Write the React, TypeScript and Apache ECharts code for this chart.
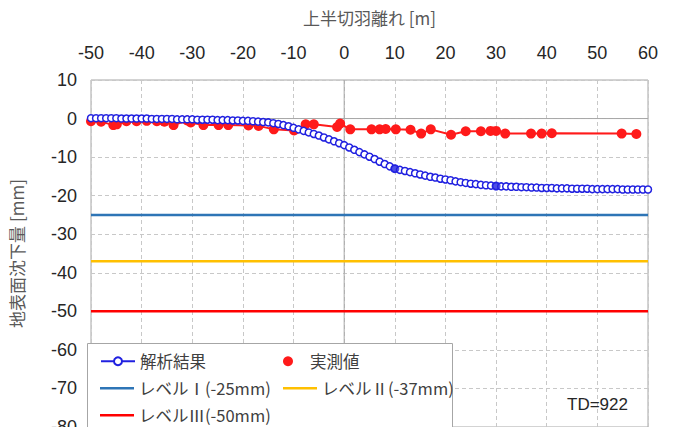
import React, { useEffect, useRef } from "react";
import * as echarts from "echarts";

// Analysis result (解析結果), one value per metre from -50 to 60
const analysisX: number[] = [];
for (let i = -50; i <= 60; i++) analysisX.push(i);
const analysisY: number[] = [
  // -50 .. -41
  0.1, 0.1, 0.1, 0.1, 0.1, 0.1, 0.0, 0.0, 0.0, 0.0,
  // -40 .. -31
  0.0, 0.0, -0.1, -0.1, -0.1, -0.1, -0.1, -0.2, -0.2, -0.2,
  // -30 .. -21
  -0.2, -0.3, -0.3, -0.3, -0.3, -0.4, -0.4, -0.4, -0.5, -0.5,
  // -20 .. -11
  -0.6, -0.6, -0.7, -0.8, -0.9, -1.0, -1.2, -1.4, -1.7, -2.0,
  // -10 .. -1
  -2.4, -2.8, -3.2, -3.6, -4.0, -4.4, -4.9, -5.4, -5.9, -6.4,
  // 0 .. 9
  -6.9, -7.5, -8.1, -8.7, -9.3, -9.9, -10.5, -11.2, -11.8, -12.4,
  // 10 .. 19
  -13.0, -13.3, -13.6, -13.9, -14.2, -14.5, -14.8, -15.1, -15.3, -15.6,
  // 20 .. 29
  -15.8, -16.0, -16.3, -16.5, -16.7, -16.9, -17.0, -17.2, -17.3, -17.4,
  // 30 .. 39
  -17.5, -17.6, -17.6, -17.7, -17.7, -17.8, -17.8, -17.9, -17.9, -18.0,
  // 40 .. 49
  -18.0, -18.0, -18.1, -18.1, -18.1, -18.2, -18.2, -18.2, -18.2, -18.3,
  // 50 .. 60
  -18.3, -18.3, -18.3, -18.3, -18.3, -18.4, -18.4, -18.4, -18.4, -18.4, -18.4,
];

// Highlighted analysis points
const keyX: number[] = [10, 30];
const keyY: number[] = [-13.0, -17.5];

// Measured values (実測値)
const measuredX: number[] = [
  -50, -48, -45.6, -44.9, -43, -41, -39, -37, -35.5, -33.7, -31, -30.3, -27.8,
  -24.8, -22.9, -18.9, -16.9, -13.9, -9.9, -7.6, -6, -1.4, -0.8, 1.2, 5.4, 7,
  8.2, 10.2, 13.1, 15.2, 17.1, 21.1, 24, 27, 28.9, 30, 31.8, 36.9, 39, 41,
  54.8, 57.7,
];
const measuredY: number[] = [
  -0.7, -0.8, -1.7, -1.5, -0.7, -0.7, -0.6, -0.7, -0.8, -1.7, -0.5, -1.0, -1.7,
  -1.7, -1.7, -1.8, -1.9, -2.8, -3.1, -1.5, -1.5, -2.2, -1.3, -2.8, -2.8, -2.8,
  -2.7, -2.8, -2.9, -3.9, -2.8, -4.2, -3.3, -3.3, -3.2, -3.2, -3.9, -3.9, -3.9,
  -3.8, -3.9, -4.0,
];

// Management levels
const levelNames: string[] = ["レベルⅠ(-25mm)", "レベルⅡ(-37mm)", "レベルⅢ(-50mm)"];
const levelValues: number[] = [-25, -37, -50];
const levelColors: string[] = ["#2e75b6", "#ffc000", "#ff0000"];

const xRange: number[] = [-50, 60];
const yRange: number[] = [-80, 10];

const NUM_FONT = "'Liberation Sans', Arial, 'Noto Sans CJK JP', sans-serif";
const JP_FONT = "'Noto Sans CJK JP', 'Liberation Sans', sans-serif";
const LINE_ICON = "path://M0,0 L40,0 L40,3 L0,3 Z";

export default function App() {
  const ref = useRef<HTMLDivElement>(null);
  useEffect(() => {
    if (!ref.current) return;
    const chart = echarts.init(ref.current, null, { renderer: "svg" });

    const zip = (xs: number[], ys: number[]) => xs.map((x, i) => [x, ys[i]]);

    const levelSeries = levelNames.map((name, i) => ({
      name,
      type: "line",
      data: [
        [xRange[0], levelValues[i]],
        [xRange[1], levelValues[i]],
      ],
      symbol: "none",
      lineStyle: { color: levelColors[i], width: 2.5 },
      itemStyle: { color: levelColors[i] },
      z: 3,
      silent: true,
    }));

    const legendCommon = {
      itemWidth: 34,
      itemHeight: 10,
      itemGap: 5,
      textStyle: { fontFamily: JP_FONT, fontSize: 16.5, color: "#404040" },
      z: 10,
      selectedMode: false,
    };

    chart.setOption({
      animation: false,
      backgroundColor: "#ffffff",
      grid: {
        left: 91,
        right: 27,
        top: 80,
        bottom: 0,
        outerBoundsMode: "none",
        containLabel: false,
        show: true,
        borderColor: "#a6a6a6",
        borderWidth: 1,
      },
      xAxis: {
        type: "value",
        position: "top",
        min: xRange[0],
        max: xRange[1],
        interval: 10,
        name: "上半切羽離れ [m]",
        nameLocation: "middle",
        nameGap: 54,
        nameTextStyle: { fontFamily: JP_FONT, fontSize: 17, color: "#595959" },
        axisLine: { show: false, onZero: false },
        axisTick: { show: false },
        axisLabel: { fontFamily: NUM_FONT, fontSize: 18, color: "#262626", margin: 18 },
        splitLine: { show: true, lineStyle: { color: "#c8c8c8", type: [4, 3], width: 1 } },
      },
      yAxis: {
        type: "value",
        min: yRange[0],
        max: yRange[1],
        interval: 10,
        name: "地表面沈下量 [mm]",
        nameLocation: "middle",
        nameGap: 66,
        nameRotate: 90,
        nameTextStyle: { fontFamily: JP_FONT, fontSize: 17, color: "#595959" },
        axisLine: { show: false, onZero: false },
        axisTick: { show: false },
        axisLabel: { fontFamily: NUM_FONT, fontSize: 18, color: "#262626", margin: 14 },
        splitLine: { show: true, lineStyle: { color: "#c8c8c8", type: [4, 3], width: 1 } },
      },
      legend: [
        { ...legendCommon, left: 95, top: 348, data: ["解析結果"] },
        { ...legendCommon, left: 278, top: 348, data: [{ name: "実測値", icon: "circle" }] },
        { ...legendCommon, left: 95, top: 375, data: [{ name: levelNames[0], icon: LINE_ICON }] },
        { ...legendCommon, left: 278, top: 375, data: [{ name: levelNames[1], icon: LINE_ICON }] },
        { ...legendCommon, left: 95, top: 402, data: [{ name: levelNames[2], icon: LINE_ICON }] },
      ],
      graphic: [
        {
          type: "rect",
          shape: { x: 87.5, y: 343.5, width: 365, height: 90 },
          style: { fill: "#ffffff", stroke: "#a6a6a6", lineWidth: 1 },
          z: 8,
          silent: true,
        },
        {
          type: "text",
          x: 567,
          y: 396,
          style: {
            text: "TD=922",
            fontFamily: NUM_FONT,
            fontSize: 17,
            fill: "#262626",
          },
          z: 9,
        },
      ],
      series: [
        {
          name: "zero-h",
          type: "line",
          data: [
            [xRange[0], 0],
            [xRange[1], 0],
          ],
          symbol: "none",
          lineStyle: { color: "#a6a6a6", width: 1 },
          silent: true,
          z: 1,
        },
        {
          name: "zero-v",
          type: "line",
          data: [
            [0, yRange[1]],
            [0, yRange[0]],
          ],
          symbol: "none",
          lineStyle: { color: "#a6a6a6", width: 1 },
          silent: true,
          z: 1,
        },
        ...levelSeries,
        {
          name: "実測値",
          type: "line",
          data: zip(measuredX, measuredY),
          symbol: "circle",
          symbolSize: 10,
          lineStyle: { color: "#ff1a1a", width: 2 },
          itemStyle: { color: "#ff1a1a" },
          z: 4,
        },
        {
          name: "解析結果",
          type: "line",
          data: zip(analysisX, analysisY),
          symbol: "circle",
          symbolSize: 7,
          showAllSymbol: true,
          lineStyle: { color: "#2020e0", width: 1.5 },
          itemStyle: { color: "#ffffff", borderColor: "#2020e0", borderWidth: 1.5 },
          z: 5,
        },
        {
          name: "key",
          type: "scatter",
          data: zip(keyX, keyY),
          symbol: "circle",
          symbolSize: 9,
          itemStyle: { color: "#2020e0" },
          z: 6,
          silent: true,
        },
      ],
    });
    return () => chart.dispose();
  }, []);

  return (
    <div
      ref={ref}
      style={{ position: "fixed", left: 0, top: 0, width: 675, height: 427, background: "#fff" }}
    />
  );
}
